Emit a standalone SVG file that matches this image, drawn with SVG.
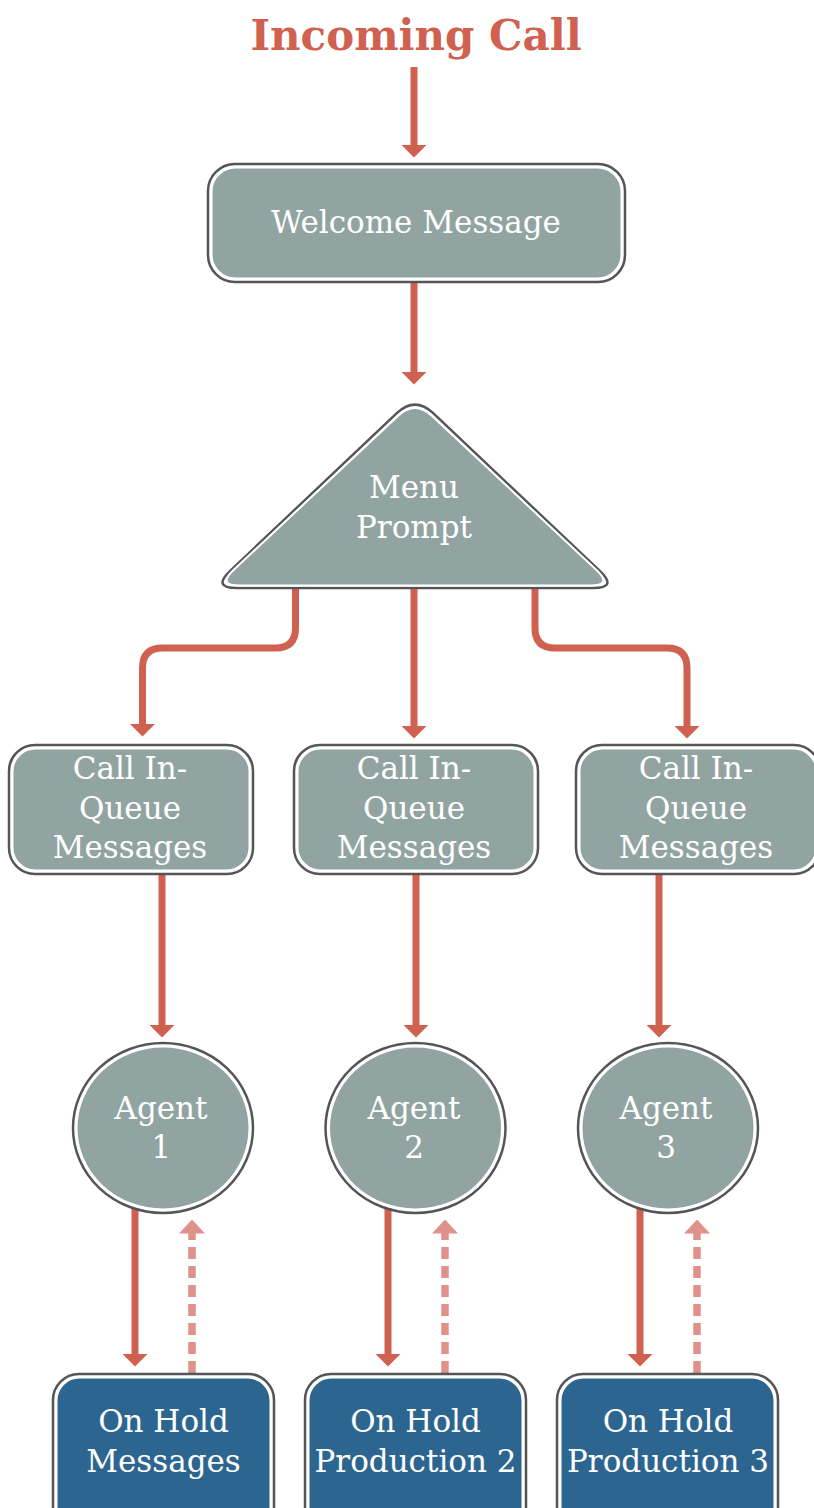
<svg xmlns="http://www.w3.org/2000/svg" width="814" height="1508" viewBox="0 0 814 1508">
  <style>
    .outer { fill: none; stroke: #555555; stroke-width: 2.5; }
    .inner { stroke: #ffffff; stroke-width: 2; }
    .gray { fill: #91A4A2; }
    .blue { fill: #2C6690; }
    .lbl { font-family: "DejaVu Serif", "Liberation Serif", serif; font-size: 31px; fill: #ffffff; text-anchor: middle; }
    .title { font-family: "DejaVu Serif", "Liberation Serif", serif; font-size: 42px; font-weight: bold; fill: #D06150; text-anchor: middle; }
    .conn { fill: none; stroke: #D06150; stroke-width: 7; }
    .dash { fill: none; stroke: #E0918A; stroke-width: 7.5; stroke-dasharray: 12 7; }
  </style>
  <defs>
    <marker id="ah" viewBox="0 0 13 26" refX="0.5" refY="13" markerWidth="13" markerHeight="26" markerUnits="userSpaceOnUse" orient="auto">
      <path d="M0,0 L13,13 L0,26 z" fill="#D06150"/>
    </marker>
    <marker id="ahl" viewBox="0 0 14 26" refX="0.5" refY="13" markerWidth="14" markerHeight="26" markerUnits="userSpaceOnUse" orient="auto">
      <path d="M0,0 L14,13 L0,26 z" fill="#E0918A"/>
    </marker>
  </defs>

  <g id="connectors">
    <path class="conn" d="M414,67 L414,145" marker-end="url(#ah)"/>
    <path class="conn" d="M414,283 L414,372" marker-end="url(#ah)"/>
    <path class="conn" d="M295.5,588 L295.5,628 Q295.5,648 275.5,648 L162.5,648 Q142.5,648 142.5,668 L142.5,724" marker-end="url(#ah)"/>
    <path class="conn" d="M414,588 L414,726" marker-end="url(#ah)"/>
    <path class="conn" d="M535,588 L535,628 Q535,648 555,648 L667,648 Q687,648 687,668 L687,726" marker-end="url(#ah)"/>
    <path class="conn" d="M162,875 L162,1025" marker-end="url(#ah)"/>
    <path class="conn" d="M416,875 L416,1025" marker-end="url(#ah)"/>
    <path class="conn" d="M659,875 L659,1025" marker-end="url(#ah)"/>
    <path class="conn" d="M135,1208 L135,1354" marker-end="url(#ah)"/>
    <path class="conn" d="M388,1208 L388,1354" marker-end="url(#ah)"/>
    <path class="conn" d="M640,1208 L640,1354" marker-end="url(#ah)"/>
    <path class="dash" d="M192,1373 L192,1233" marker-end="url(#ahl)"/>
    <path class="dash" d="M445,1373 L445,1233" marker-end="url(#ahl)"/>
    <path class="dash" d="M697,1373 L697,1233" marker-end="url(#ahl)"/>
  </g>

  <text id="title" class="title" x="416" y="50">Incoming Call</text>

  <g id="welcome">
    <rect class="outer" x="208" y="164" width="417" height="118" rx="27"/>
    <rect class="gray inner" x="211.5" y="167.5" width="410" height="111" rx="24"/>
    <text class="lbl" x="416" y="233">Welcome Message</text>
  </g>

  <g id="menu">
    <path class="outer" d="M237,588 L593,588 Q618,588 599.8,570.8 L433.2,413.2 Q415,396 396.8,413.2 L230.2,570.8 Q212,588 237,588 Z"/>
    <path class="gray inner" d="M240,585.5 L590,585.5 Q613,585.5 596.2,569.8 L431.8,415.7 Q415,400 398.2,415.7 L233.8,569.8 Q217,585.5 240,585.5 Z"/>
    <text class="lbl" x="414" y="498">Menu</text>
    <text class="lbl" x="414" y="538">Prompt</text>
  </g>

  <g id="queue1">
    <rect class="outer" x="9" y="745" width="244" height="129" rx="26"/>
    <rect class="gray inner" x="12.5" y="748.5" width="237" height="122" rx="23"/>
    <text class="lbl" x="130" y="779">Call In-</text>
    <text class="lbl" x="130" y="819">Queue</text>
    <text class="lbl" x="130" y="858">Messages</text>
  </g>
  <g id="queue2">
    <rect class="outer" x="294" y="745" width="244" height="129" rx="26"/>
    <rect class="gray inner" x="297.5" y="748.5" width="237" height="122" rx="23"/>
    <text class="lbl" x="414" y="779">Call In-</text>
    <text class="lbl" x="414" y="819">Queue</text>
    <text class="lbl" x="414" y="858">Messages</text>
  </g>
  <g id="queue3">
    <rect class="outer" x="576" y="745" width="244" height="129" rx="26"/>
    <rect class="gray inner" x="579.5" y="748.5" width="237" height="122" rx="23"/>
    <text class="lbl" x="696" y="779">Call In-</text>
    <text class="lbl" x="696" y="819">Queue</text>
    <text class="lbl" x="696" y="858">Messages</text>
  </g>

  <g id="agent1">
    <ellipse class="outer" cx="163" cy="1128" rx="90" ry="85"/>
    <ellipse class="gray inner" cx="163" cy="1128" rx="86.5" ry="81.5"/>
    <text class="lbl" x="161" y="1119">Agent</text>
    <text class="lbl" x="161" y="1158">1</text>
  </g>
  <g id="agent2">
    <ellipse class="outer" cx="415.5" cy="1128" rx="90" ry="85"/>
    <ellipse class="gray inner" cx="415.5" cy="1128" rx="86.5" ry="81.5"/>
    <text class="lbl" x="414" y="1119">Agent</text>
    <text class="lbl" x="414" y="1158">2</text>
  </g>
  <g id="agent3">
    <ellipse class="outer" cx="668" cy="1128" rx="90" ry="85"/>
    <ellipse class="gray inner" cx="668" cy="1128" rx="86.5" ry="81.5"/>
    <text class="lbl" x="666" y="1119">Agent</text>
    <text class="lbl" x="666" y="1158">3</text>
  </g>

  <g id="hold1">
    <rect class="outer" x="53" y="1374" width="221" height="160" rx="26"/>
    <rect class="blue inner" x="56.5" y="1377.5" width="214" height="153" rx="23"/>
    <text class="lbl" x="163.5" y="1432">On Hold</text>
    <text class="lbl" x="163.5" y="1472">Messages</text>
  </g>
  <g id="hold2">
    <rect class="outer" x="305" y="1374" width="221" height="160" rx="26"/>
    <rect class="blue inner" x="308.5" y="1377.5" width="214" height="153" rx="23"/>
    <text class="lbl" x="415.5" y="1432">On Hold</text>
    <text class="lbl" x="415.5" y="1472">Production 2</text>
  </g>
  <g id="hold3">
    <rect class="outer" x="557" y="1374" width="221" height="160" rx="26"/>
    <rect class="blue inner" x="560.5" y="1377.5" width="214" height="153" rx="23"/>
    <text class="lbl" x="668" y="1432">On Hold</text>
    <text class="lbl" x="668" y="1472">Production 3</text>
  </g>
</svg>
